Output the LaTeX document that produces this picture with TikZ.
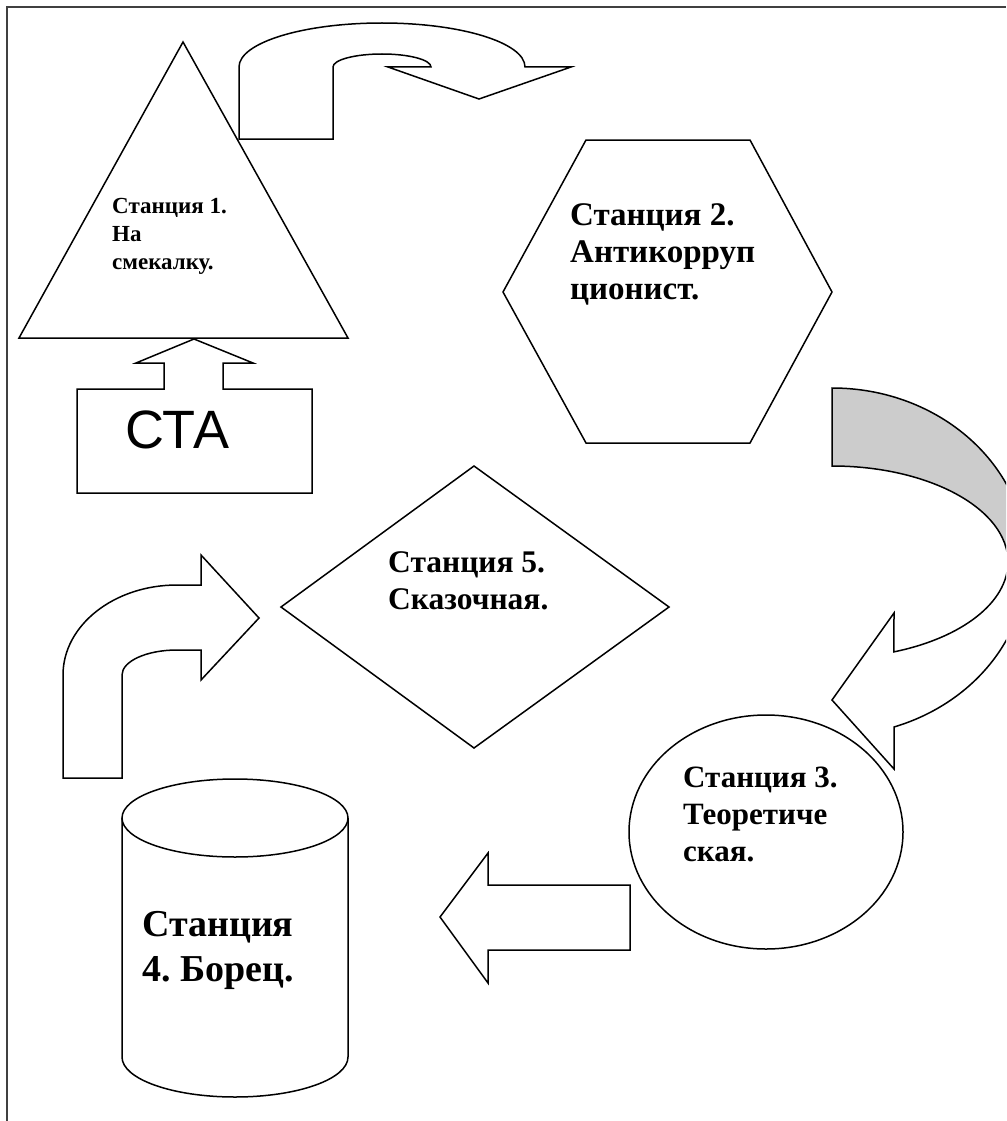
\documentclass[tikz,border=0pt]{standalone}
\usepackage{fontspec}
\setmainfont{Liberation Serif}
\newfontfamily\ctafont{Liberation Sans}
\frenchspacing
\begin{document}
\begin{tikzpicture}[x=1pt, y=-1pt]
  \tikzstyle{figure} = [draw=black, line width=1.5pt]
  \tikzstyle{caption} = [anchor=north west, inner sep=0pt, align=left]

  \useasboundingbox (0,0) rectangle (1006,1121);
  \clip (0,0) rectangle (1006,1121);
  \draw[black!75, line width=1.3pt] (7,1121) -- (7,7) -- (1006,7);

  \draw[figure] (183,42) -- (348,338) -- (19,338) -- cycle;
  \draw[figure] (239,139) -- (239,67) arc[start angle=180, end angle=360, x radius=143, y radius=44]
    -- (571,67) -- (479,99) -- (388,67) -- (431,67)
    arc[start angle=360, end angle=180, x radius=49, y radius=13] -- (333,139) -- cycle;
  \draw[figure] (77,389) -- (164,389) -- (164,363) -- (136,363) -- (194,339) -- (253,363)
    -- (223,363) -- (223,389) -- (312,389) -- (312,493) -- (77,493) -- cycle;
  \draw[figure] (586,140) -- (750,140) -- (832,292) -- (750,443) -- (586,443) -- (503,292) -- cycle;
  \draw[figure, fill=black!20] (832,388) arc[start angle=-90, end angle=0, x radius=195, y radius=174]
    -- (1008,562) arc[start angle=0, end angle=-90, x radius=176, y radius=96] -- cycle;
  \draw[figure, fill=white] (1008,562) arc[start angle=0, end angle=69.4, x radius=176, y radius=96]
    -- (894,613) -- (832,700) -- (894,769) -- (894,727)
    arc[start angle=71.5, end angle=0, x radius=195, y radius=174] -- cycle;
  \draw[figure] (474,466) -- (669,607) -- (474,748) -- (281,607) -- cycle;
  \draw[figure] (766,832) ellipse [x radius=137, y radius=117];
  \draw[figure] (63,778) -- (63,675) arc[start angle=180, end angle=270, x radius=114, y radius=90]
    -- (201,585) -- (201,555) -- (259,618) -- (201,680) -- (201,650) -- (177,650)
    arc[start angle=270, end angle=180, x radius=55, y radius=25] -- (122,778) -- cycle;
  \draw[figure] (630,885) -- (488,885) -- (488,853) -- (440,917) -- (488,983) -- (488,950) -- (630,950) -- cycle;
  \draw[figure] (122,818) -- (122,1057) arc[start angle=180, end angle=0, x radius=113, y radius=40] -- (348,818);
  \draw[figure] (235,818) ellipse [x radius=113, y radius=39];

  \node [caption, font=\bfseries\fontsize{23}{28}\selectfont] (st1) at (112,198) {Станция 1.\\На\\смекалку.};
  \node [caption, font=\bfseries\fontsize{33}{37}\selectfont] (st2) at (570,203) {Станция 2.\\Антикорруп\\ционист.};
  \node [caption, font=\bfseries\fontsize{31.5}{37}\selectfont] (st5) at (388,551) {Станция 5.\\Сказочная.};
  \node [caption, font=\bfseries\fontsize{31}{37}\selectfont] (st3) at (683,767) {Станция 3.\\Теоретиче\\ская.};
  \node [caption, font=\bfseries\fontsize{38}{45}\selectfont] (st4) at (142,911) {Станция\\4. Борец.};
  \node [anchor=base west, inner sep=0pt, font=\ctafont\fontsize{54}{54}\selectfont] (cta) at (125,448) {СТА};
\end{tikzpicture}
\end{document}
